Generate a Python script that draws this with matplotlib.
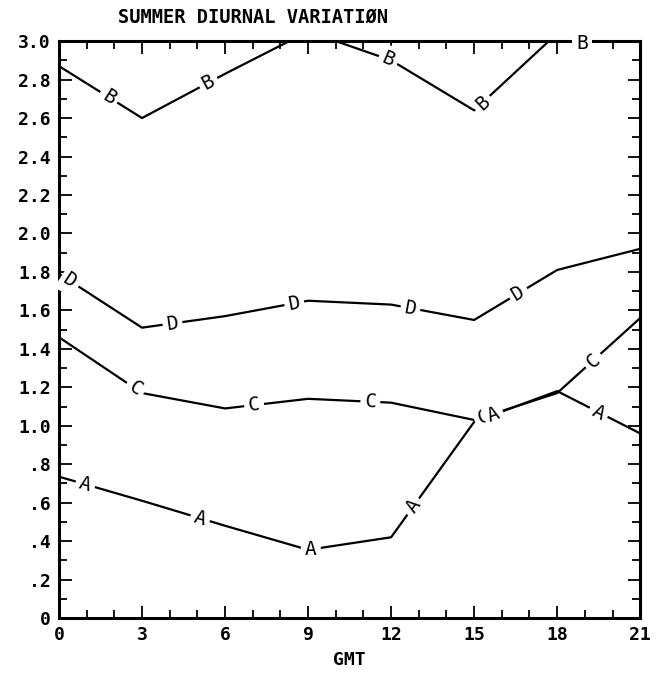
import numpy as np
import matplotlib
matplotlib.use("Agg")
import matplotlib.pyplot as plt
from matplotlib.ticker import MultipleLocator

hours = [0, 3, 6, 9, 12, 15, 18, 21]
series_a = [0.735, 0.61, 0.48, 0.355, 0.42, 1.02, 1.18, 0.96]
series_b = [2.87, 2.60, 2.83, 3.05, 2.90, 2.64, 3.04, 3.08]
series_c = [1.46, 1.17, 1.09, 1.14, 1.12, 1.03, 1.17, 1.56]
series_d = [1.79, 1.51, 1.57, 1.65, 1.63, 1.55, 1.81, 1.92]

label_x = {
    "A": [0.95, 5.1, 9.1, 12.8, 15.7, 19.5],
    "B": [1.8, 5.4, 11.9, 15.3, 18.9],
    "C": [2.75, 7.05, 11.25, 15.35, 19.3],
    "D": [0.4, 4.1, 8.5, 12.7, 16.6],
}
yticks = np.arange(0, 3.01, 0.2)
ytick_labels = ["0", ".2", ".4", ".6", ".8", "1.0", "1.2", "1.4", "1.6",
                "1.8", "2.0", "2.2", "2.4", "2.6", "2.8", "3.0"]
xticks = [0, 3, 6, 9, 12, 15, 18, 21]

plt.rcParams['font.family'] = ['DejaVu Sans Mono']
plt.rcParams['font.weight'] = 'bold'
fig = plt.figure(figsize=(6.6, 6.74), dpi=100)
ax = fig.add_axes([0.0894, 0.083, 0.8806, 0.856])
ax.set_xlim(0, 21)
ax.set_ylim(0, 3.0)

for s in ax.spines.values():
    s.set_linewidth(2.2)

ax.set_xticks(xticks)
ax.set_xticklabels([str(x) for x in xticks], fontsize=13)
ax.set_yticks(yticks)
ax.set_yticklabels(ytick_labels, fontsize=13)
ax.xaxis.set_minor_locator(MultipleLocator(1))
ax.yaxis.set_minor_locator(MultipleLocator(0.1))
ax.tick_params(which='both', direction='in', top=True, right=True, width=1.3)
ax.tick_params(which='major', length=9, pad=6)
ax.tick_params(which='minor', length=6)

ax.set_xlabel("GMT", fontsize=13, fontweight='bold', labelpad=5)
fig.text(118 / 660, 1 - 17 / 674, "SUMMER DIURNAL VARIATIØN", fontsize=13.5,
         ha='left', va='center')

data = {"A": series_a, "B": series_b, "C": series_c, "D": series_d}
for name, ys in data.items():
    ax.plot(hours, ys, color='black', lw=1.6, zorder=2)

fig.canvas.draw()
for name, ys in data.items():
    for lx in label_x[name]:
        ly = min(np.interp(lx, hours, ys), 2.985)
        p1 = ax.transData.transform((lx - 0.3, np.interp(lx - 0.3, hours, ys)))
        p2 = ax.transData.transform((lx + 0.3, np.interp(lx + 0.3, hours, ys)))
        ang = np.degrees(np.arctan2(p2[1] - p1[1], p2[0] - p1[0]))
        if ly >= 2.985:
            ang = 0
        ax.text(lx, ly, name, fontsize=14, fontweight='normal',
                ha='center', va='center',
                rotation=ang, rotation_mode='anchor',
                zorder=4 if name == "A" else 3,
                bbox=dict(facecolor='white', edgecolor='none', pad=3))

fig.savefig("out.png", dpi=100)
